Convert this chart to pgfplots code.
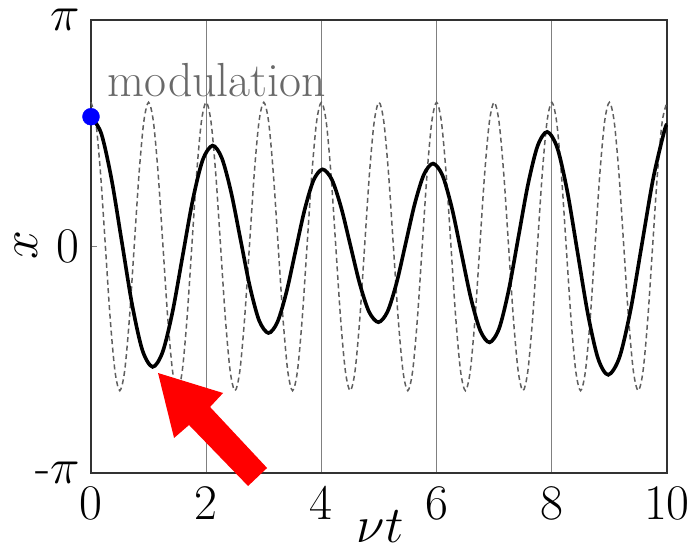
\RequirePackage{fix-cm}
\documentclass[border=0pt]{standalone}
\usepackage{pgfplots}
\pgfplotsset{compat=1.18}
\definecolor{dashgray}{RGB}{95,95,95}
\definecolor{gridgray}{RGB}{128,128,128}
\definecolor{boxgray}{RGB}{50,50,50}
\definecolor{textgray}{RGB}{105,105,105}
\begin{document}
\begin{tikzpicture}
\begin{axis}[
  scale only axis,
  width=576bp, height=453bp,
  xmin=0, xmax=10, ymin=-3.14159, ymax=3.14159,
  clip=false,
  axis line style={boxgray, line width=1.4bp},
  xtick={0,2,4,6,8,10},
  ytick={-3.14159,0,3.14159},
  yticklabels={-$\pi$,$0$,$\pi$},
  tick pos=left,
  major tick length=6bp,
  tick style={gridgray, line width=1bp},
  xmajorgrids,
  grid style={gridgray, line width=1bp},
  ticklabel style={font=\fontsize{50}{54}\selectfont, inner sep=0pt},
  xticklabel style={yshift=-14bp},
  yticklabel style={xshift=-11bp},
  xlabel={$\nu t$},
  ylabel={$x$},
  label style={font=\fontsize{52}{56}\selectfont},
  xlabel style={at={(axis description cs:0.502,-0.118)}, anchor=center, inner sep=0pt},
  ylabel style={at={(axis description cs:-0.112,0.503)}, anchor=center, inner sep=0pt},
]
\coordinate (sw) at (rel axis cs:0,0);
% modulation (dashed)
\addplot[dashgray, line width=1.5bp, dash pattern=on 5bp off 3.5bp, smooth] coordinates {
(0,2) (0.0833,1.732) (0.1667,1) (0.25,0) (0.3333,-1) (0.4167,-1.732) (0.5,-2) (0.5833,-1.732) (0.6667,-1) (0.75,0) (0.8333,1) (0.9167,1.732)
(1,2) (1.0833,1.732) (1.1667,1) (1.25,0) (1.3333,-1) (1.4167,-1.732) (1.5,-2) (1.5833,-1.732) (1.6667,-1) (1.75,0) (1.8333,1) (1.9167,1.732)
(2,2) (2.0833,1.732) (2.1667,1) (2.25,0) (2.3333,-1) (2.4167,-1.732) (2.5,-2) (2.5833,-1.732) (2.6667,-1) (2.75,0) (2.8333,1) (2.9167,1.732)
(3,2) (3.0833,1.732) (3.1667,1) (3.25,0) (3.3333,-1) (3.4167,-1.732) (3.5,-2) (3.5833,-1.732) (3.6667,-1) (3.75,0) (3.8333,1) (3.9167,1.732)
(4,2) (4.0833,1.732) (4.1667,1) (4.25,0) (4.3333,-1) (4.4167,-1.732) (4.5,-2) (4.5833,-1.732) (4.6667,-1) (4.75,0) (4.8333,1) (4.9167,1.732)
(5,2) (5.0833,1.732) (5.1667,1) (5.25,0) (5.3333,-1) (5.4167,-1.732) (5.5,-2) (5.5833,-1.732) (5.6667,-1) (5.75,0) (5.8333,1) (5.9167,1.732)
(6,2) (6.0833,1.732) (6.1667,1) (6.25,0) (6.3333,-1) (6.4167,-1.732) (6.5,-2) (6.5833,-1.732) (6.6667,-1) (6.75,0) (6.8333,1) (6.9167,1.732)
(7,2) (7.0833,1.732) (7.1667,1) (7.25,0) (7.3333,-1) (7.4167,-1.732) (7.5,-2) (7.5833,-1.732) (7.6667,-1) (7.75,0) (7.8333,1) (7.9167,1.732)
(8,2) (8.0833,1.732) (8.1667,1) (8.25,0) (8.3333,-1) (8.4167,-1.732) (8.5,-2) (8.5833,-1.732) (8.6667,-1) (8.75,0) (8.8333,1) (8.9167,1.732)
(9,2) (9.0833,1.732) (9.1667,1) (9.25,0) (9.3333,-1) (9.4167,-1.732) (9.5,-2) (9.5833,-1.732) (9.6667,-1) (9.75,0) (9.8333,1) (9.9167,1.732)
(10,2)
};
% pendulum (solid black)
\addplot[black, line width=3.6bp, smooth] coordinates {
(0,1.80) (0.1783,1.5675) (0.3567,0.9325) (0.535,0.065) (0.7133,-0.8025) (0.8917,-1.4375)
(1.07,-1.67) (1.2433,-1.4643) (1.4167,-0.9025) (1.59,-0.135) (1.7633,0.6325) (1.9367,1.1943)
(2.11,1.40) (2.2717,1.2258) (2.4333,0.75) (2.595,0.10) (2.7567,-0.55) (2.9183,-1.0258)
(3.08,-1.20) (3.2367,-1.0479) (3.3933,-0.6325) (3.55,-0.065) (3.7067,0.5025) (3.8633,0.9179)
(4.02,1.07) (4.1817,0.928) (4.3433,0.54) (4.505,0.01) (4.6667,-0.52) (4.8283,-0.908)
(4.99,-1.05) (5.1483,-0.9026) (5.3067,-0.50) (5.465,0.05) (5.6233,0.60) (5.7817,1.0026)
(5.94,1.15) (6.1033,0.9838) (6.2667,0.53) (6.43,-0.09) (6.5933,-0.71) (6.7567,-1.1638)
(6.92,-1.33) (7.0867,-1.1344) (7.2533,-0.60) (7.42,0.13) (7.5867,0.86) (7.7533,1.3944)
(7.92,1.59) (8.0967,1.3642) (8.2733,0.7475) (8.45,-0.095) (8.6267,-0.9375) (8.8033,-1.5542)
(8.98,-1.78) (9.175,-1.5368) (9.37,-0.8725) (9.565,0.035) (9.76,0.9425) (9.955,1.6068) (10,1.69)
};
% initial point
\addplot[only marks, mark=*, mark size=8.5bp, mark options={draw=blue, fill=blue}] coordinates {(0,1.80)};
\node[anchor=base west, inner sep=0pt, text=textgray, font=\fontsize{48}{52}\selectfont] at (axis cs:0.29,2.074) {modulation};
% red arrow
\fill[red] (axis cs:1.164,-1.755) -- (axis cs:2.293,-2.032) -- (axis cs:2.067,-2.226) -- (axis cs:3.057,-3.072)
  -- (axis cs:2.727,-3.322) -- (axis cs:1.702,-2.476) -- (axis cs:1.442,-2.656) -- cycle;
\end{axis}
\pgfresetboundingbox
\path (sw) ++(-91bp,-83bp) rectangle ++(692bp,556bp);
\end{tikzpicture}
\end{document}
